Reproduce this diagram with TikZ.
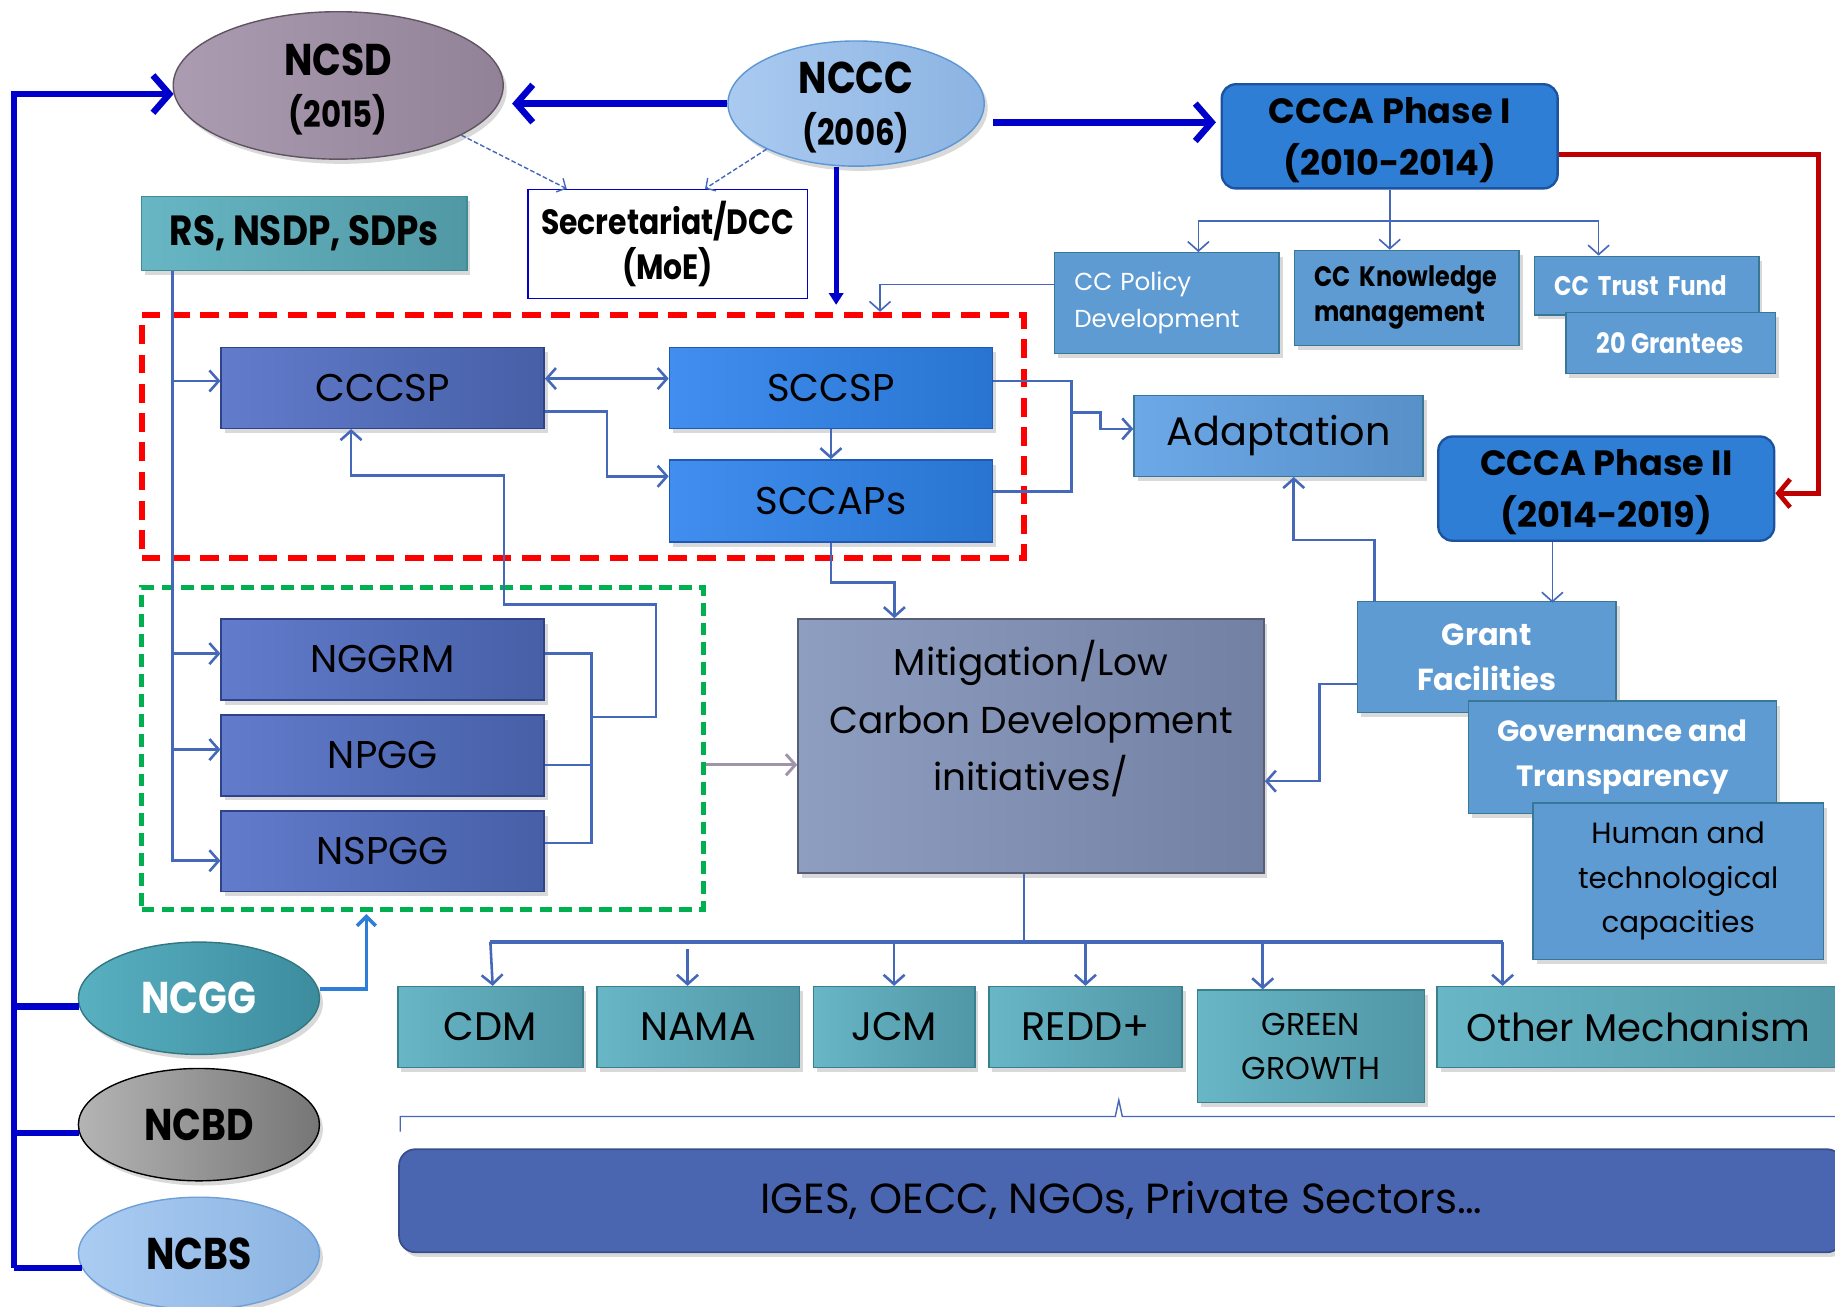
\documentclass[tikz,border=0pt]{standalone}
\usepackage{fontspec}
\setmainfont{Poppins}
\newfontfamily\narrowfont{Poppins}[FakeStretch=0.85]
\newcommand\yearsize{\fontsize{31}{44}\selectfont}
\usetikzlibrary{arrows.meta,shapes.geometric,shadows,calc}

\begin{document}
\begin{tikzpicture}[x=1pt,y=1pt,yscale=-1,xscale=1,
  >={Straight Barb[length=8pt,width=18pt]},
  softshadow/.style={drop shadow={shadow xshift=3pt,shadow yshift=-4pt,opacity=0.3}},
  oval/.style={ellipse,line width=1.2,align=center,inner sep=0pt,minimum width=206,minimum height=96,softshadow,font=\narrowfont\bfseries\fontsize{38}{44}\selectfont},
  phasebox/.style={rounded corners=12,draw={rgb, 255:red, 28; green, 82; blue, 160 },line width=2,fill={rgb, 255:red, 46; green, 126; blue, 214 },minimum width=287,minimum height=89,align=center,text depth=0pt,font=\bfseries\fontsize{30}{44}\selectfont},
  planbox/.style={draw={rgb, 255:red, 48; green, 66; blue, 136 },line width=1.2,left color={rgb, 255:red, 98; green, 124; blue, 204 },right color={rgb, 255:red, 70; green, 95; blue, 166 },minimum width=276,minimum height=69,softshadow,font=\fontsize{33}{38}\selectfont},
  statebox/.style={planbox,draw={rgb, 255:red, 30; green, 90; blue, 180 },left color={rgb, 255:red, 66; green, 142; blue, 240 },right color={rgb, 255:red, 40; green, 116; blue, 208 }},
  ccbox/.style={draw={rgb, 255:red, 56; green, 120; blue, 150 },line width=1.2,fill={rgb, 255:red, 94; green, 155; blue, 210 },align=center,softshadow},
  mechbox/.style={draw={rgb, 255:red, 56; green, 128; blue, 140 },line width=1.2,left color={rgb, 255:red, 104; green, 182; blue, 198 },right color={rgb, 255:red, 80; green, 150; blue, 166 },minimum height=69,align=center,softshadow,font=\fontsize{34}{38}\selectfont},
  redframe/.style={draw={rgb, 255:red, 255; green, 0; blue, 0 },line width=5,dash pattern=on 16pt off 9pt,minimum width=754,minimum height=208},
  greenframe/.style={draw={rgb, 255:red, 0; green, 176; blue, 80 },line width=4,dash pattern=on 11pt off 6pt,minimum width=480,minimum height=275},
  link/.style={draw={rgb, 255:red, 70; green, 104; blue, 184 },line width=2.2},
  treelink/.style={link,line width=1.4},
  dashlink/.style={link,line width=1.2,dash pattern=on 4pt off 2pt,-{Straight Barb[length=6pt,width=13pt]}},
  leadlink/.style={draw={rgb, 255:red, 0; green, 0; blue, 204 },line width=5.5},
  leadarrow/.style={leadlink,-{Straight Barb[length=14pt,width=32pt]}},
  redlink/.style={draw={rgb, 255:red, 192; green, 0; blue, 0 },line width=4,-{Straight Barb[length=10pt,width=24pt]}},
  greylink/.style={draw={rgb, 255:red, 160; green, 148; blue, 170 },line width=2.5,->},
  ncgglink/.style={draw={rgb, 255:red, 44; green, 126; blue, 216 },line width=3,-{Straight Barb[length=8pt,width=16pt]}}
]
\useasboundingbox (0,0) rectangle (1568,1116);

% Group frames
\node [redframe] (natgrp) at (498,373) {};
\node [greenframe] (govgrp) at (361,639.5) {};

% Ellipses
\node [oval,text depth=0pt,minimum width=282,minimum height=126,draw={rgb, 255:red, 96; green, 84; blue, 98 },left color={rgb, 255:red, 172; green, 156; blue, 178 },right color={rgb, 255:red, 146; green, 130; blue, 152 }] (ncsd) at (289,73) {NCSD\\{\yearsize(2015)}};
\node [oval,text depth=0pt,minimum width=219,minimum height=107,draw={rgb, 255:red, 92; green, 150; blue, 212 },left color={rgb, 255:red, 170; green, 202; blue, 240 },right color={rgb, 255:red, 140; green, 180; blue, 226 }] (nccc) at (731.5,88.5) {NCCC\\{\yearsize(2006)}};
\node [oval,text=white,draw={rgb, 255:red, 50; green, 118; blue, 130 },left color={rgb, 255:red, 88; green, 176; blue, 192 },right color={rgb, 255:red, 60; green, 140; blue, 158 }] (ncgg) at (170,853) {NCGG};
\node [oval,draw={rgb, 255:red, 0; green, 0; blue, 0 },left color={rgb, 255:red, 180; green, 180; blue, 180 },right color={rgb, 255:red, 118; green, 118; blue, 118 }] (ncbd) at (170,961) {NCBD};
\node [oval,draw={rgb, 255:red, 110; green, 160; blue, 215 },left color={rgb, 255:red, 170; green, 204; blue, 242 },right color={rgb, 255:red, 140; green, 180; blue, 226 }] (ncbs) at (170,1071) {NCBS};

% Text boxes, top row
\node [draw={rgb, 255:red, 0; green, 0; blue, 200 },line width=1.5,fill=white,minimum width=239,minimum height=93,align=center,font=\narrowfont\bfseries\fontsize{30}{39}\selectfont] (secr) at (570.5,208.5) {Secretariat/DCC\\(MoE)};
\node [draw={rgb, 255:red, 62; green, 140; blue, 150 },line width=1.2,left color={rgb, 255:red, 104; green, 182; blue, 196 },right color={rgb, 255:red, 80; green, 152; blue, 164 },minimum width=278,minimum height=63,softshadow,font=\narrowfont\bfseries\fontsize{36}{40}\selectfont] (rs) at (260,199.5) {RS, NSDP, SDPs};
\node [phasebox] (ccca1) at (1187.5,116.5) {CCCA Phase I\\(2010-2014)};
\node [phasebox] (ccca2) at (1372.5,417.5) {CCCA Phase II\\(2014-2019)};

% CCCA Phase I outputs
\node [ccbox,minimum width=192,minimum height=86,text width=158,inner xsep=17,align=left,text=white,font=\fontsize{21}{32}\selectfont] (ccpol) at (997,259) {CC Policy\\Development};
\node [ccbox,minimum width=192,minimum height=81,text width=158,inner xsep=17,align=left,font=\narrowfont\bfseries\fontsize{24}{30}\selectfont] (ccknow) at (1202,254.5) {CC Knowledge\\management};
\node [ccbox,minimum width=192,minimum height=50,text width=158,inner xsep=17,align=left,text=white,font=\narrowfont\bfseries\fontsize{23}{30}\selectfont] (cctrust) at (1407,244) {CC Trust Fund};
\node [ccbox,minimum width=179,minimum height=52,text=white,font=\narrowfont\bfseries\fontsize{24}{30}\selectfont] (grantees) at (1427.5,293) {20 Grantees};

% Strategy and plans
\node [planbox] (cccsp) at (327,331.5) {CCCSP};
\node [statebox] (sccsp) at (710,331.5) {SCCSP};
\node [statebox,minimum height=70] (sccaps) at (710,428) {SCCAPs};
\node [planbox] (nggrm) at (327,563.5) {NGGRM};
\node [planbox] (npgg) at (327,645.5) {NPGG};
\node [planbox] (nspgg) at (327,727.5) {NSPGG};

\node [ccbox,minimum width=247,minimum height=69,left color={rgb, 255:red, 108; green, 168; blue, 232 },right color={rgb, 255:red, 88; green, 144; blue, 200 },font=\fontsize{34}{40}\selectfont] (adapt) at (1092.5,372.5) {Adaptation};
\node [draw={rgb, 255:red, 88; green, 94; blue, 120 },line width=1.5,left color={rgb, 255:red, 142; green, 158; blue, 192 },right color={rgb, 255:red, 114; green, 128; blue, 164 },minimum width=398,minimum height=217,softshadow,label={[anchor=north,inner sep=19pt,align=center,font=\fontsize{32}{49}\selectfont]north:Mitigation/Low\\Carbon Development\\initiatives/}] (mitig) at (881,637.5) {};

% CCCA Phase II outputs
\node [ccbox,minimum width=221,minimum height=95,text=white,font=\bfseries\fontsize{26}{38}\selectfont] (grant) at (1270.5,561.5) {Grant\\Facilities};
\node [ccbox,minimum width=263,minimum height=96,text=white,font=\bfseries\fontsize{25}{38}\selectfont] (govern) at (1386.5,647) {Governance and\\Transparency};
\node [ccbox,minimum width=248,minimum height=134,font=\fontsize{25}{38}\selectfont] (human) at (1434,753) {Human and\\technological\\capacities};

% Mechanisms
\node [mechbox,minimum width=158] (cdm) at (419,877.5) {CDM};
\node [mechbox,minimum width=173] (nama) at (596.5,877.5) {NAMA};
\node [mechbox,minimum width=138] (jcm) at (764,877.5) {JCM};
\node [mechbox,minimum width=165] (redd) at (927.5,877.5) {REDD+};
\node [mechbox,minimum width=194,minimum height=96,font=\fontsize{27}{38}\selectfont] (green) at (1120,894) {GREEN\\GROWTH};
\node [mechbox,minimum width=344,font=\fontsize{33}{38}\selectfont] (other) at (1400,877.5) {Other Mechanism};
\node [rounded corners=14,draw={rgb, 255:red, 56; green, 78; blue, 140 },line width=1.5,fill={rgb, 255:red, 74; green, 102; blue, 176 },minimum width=1234,minimum height=88,softshadow,font=\fontsize{36}{40}\selectfont] (iges) at (958,1026) {IGES, OECC, NGOs, Private Sectors\ldots};

% Leading council lines
\coordinate (busx) at (12,0);
\draw [leadarrow] (busx |- ncbs.187) -- (busx |- ncsd.183) -- (ncsd.183);
\draw [leadlink] (busx |- ncgg.184) -- (ncgg.184);
\draw [leadlink] (busx |- ncbd.184) -- (ncbd.184);
\draw [leadlink] (busx |- ncbs.187) -- (ncbs.187);
\draw [leadarrow,shorten >=7pt] (nccc.west) -- (nccc.west -| ncsd.east);
\coordinate (ncccout) at ($(nccc.east)+(7,16)$);
\draw [leadarrow,shorten >=4pt] (ncccout) -- (ncccout -| ccca1.west);
\coordinate (ncccdrop) at ($(nccc.south)+(-17,0)$);
\draw [leadlink,line width=4,-{Triangle[length=10pt,width=12pt]},shorten >=6pt] (ncccdrop) -- (ncccdrop |- natgrp.north);
\draw [dashlink] (ncsd.-22) -- ($(secr.north west)+(34,0)$);
\draw [dashlink] (nccc.207) -- ($(secr.north)+(32,0)$);
\draw [redlink] ($(ccca1.east)+(0,15.5)$) -| ($(ccca2.east)+(37,4)$) -- ($(ccca2.east)+(0,4)$);

% CCCA Phase I tree
\coordinate (treebar) at ($(ccca1.south)+(0,27)$);
\draw [treelink] (ccca1.south) -- (treebar);
\draw [treelink,->] (treebar) -| ($(ccpol.north)+(27,0)$);
\draw [treelink,->] (treebar) -- (treebar |- ccknow.north);
\draw [treelink,->] (treebar) -| ($(cctrust.north)+(-41,0)$);
\draw [treelink,->] ($(ccpol.west)+(0,-16)$) -| ($(natgrp.north)+(254,0)$);

% RS spine
\coordinate (rsfoot) at ($(rs.south west)+(27,0)$);
\draw [link,->] (rsfoot) |- ($(nspgg.west)+(0,8)$);
\draw [link,->] (rsfoot |- cccsp.west) ++(0,-6) -- ($(cccsp.west)+(0,-6)$);
\draw [link,->] (rsfoot |- nggrm.west) ++(0,-5) -- ($(nggrm.west)+(0,-5)$);
\draw [link,->] (rsfoot |- npgg.west) ++(0,-5) -- ($(npgg.west)+(0,-5)$);

% Red group links
\draw [link,<->] ($(cccsp.east)+(0,-8)$) -- ($(sccsp.west)+(0,-8)$);
\draw [link,->] ($(cccsp.east)+(0,20)$) -- ++(53,0) |- ($(sccaps.west)+(0,-21)$);
\draw [link,->] (sccsp.south) -- (sccaps.north);
\draw [link] ($(sccsp.east)+(0,-6)$) -- ++(67,0) coordinate (forkx) |- ($(sccaps.east)+(0,-8)$);
\draw [link,->] ($(forkx)+(0,27)$) -- ++(25,0) |- ($(adapt.west)+(0,-6)$);
\draw [link,->] (sccaps.south) -- ++(0,34) -| ($(mitig.north west)+(83,0)$);

% Green group links
\draw [link] ($(nggrm.east)+(0,-5)$) -- ++(40,0) |- ($(nspgg.east)+(0,-7)$);
\draw [link] ($(npgg.east)+(0,8)$) -- ++(40,0);
\draw [link,->] ($(nggrm.east)+(40,49)$) -- ++(55,0) -- ++(0,-96) -- ++(-130,0) -- ++(0,-110) -| ($(cccsp.south)+(-27,0)$);
\coordinate (govout) at ($(govgrp.east)+(0,14)$);
\draw [greylink] (govout) -- (govout -| mitig.west);
\draw [ncgglink] ($(ncgg.east)+(0,-8)$) -| ($(govgrp.south)+(-48,2)$);

% CCCA Phase II links
\draw [treelink,->] ($(ccca2.south)+(-46,0)$) -- ++(0,52);
\draw [link,->] ($(grant.north west)+(15,0)$) -- ++(0,-52) -| ($(adapt.south)+(13,0)$);
\draw [link,->] ($(grant.west)+(0,23)$) -- ++(-32,0) |- ($(mitig.east)+(0,30)$);

% Mechanisms
\coordinate (mechbar) at ($(mitig.south)+(-6,58)$);
\draw [link] ($(mitig.south)+(-6,0)$) -- (mechbar);
\draw [link,line width=3] (mechbar -| cdm.north) -- (mechbar -| 1284,0);
\draw [link,->] (mechbar -| cdm.north) -- ($(cdm.north)+(2,0)$);
\draw [link,->] ($(mechbar -| nama.north)+(-9,6)$) -- ($(nama.north)+(-9,0)$);
\draw [link,->] (mechbar -| jcm.north) -- (jcm.north);
\draw [link,->] (mechbar -| redd.north) -- (redd.north);
\draw [link,->] ($(mechbar -| green.north)+(-41,0)$) -- ($(green.north)+(-41,0)$);
\draw [link,->] (mechbar -| 1284,0) -- ($(other.north)+(-116,0)$);

% Brace
\draw [link,line width=1.2] (342,967) -- (342,954) -- (953,954) -- (956,940) -- (959,954) -- (1568,954);
\end{tikzpicture}
\end{document}
